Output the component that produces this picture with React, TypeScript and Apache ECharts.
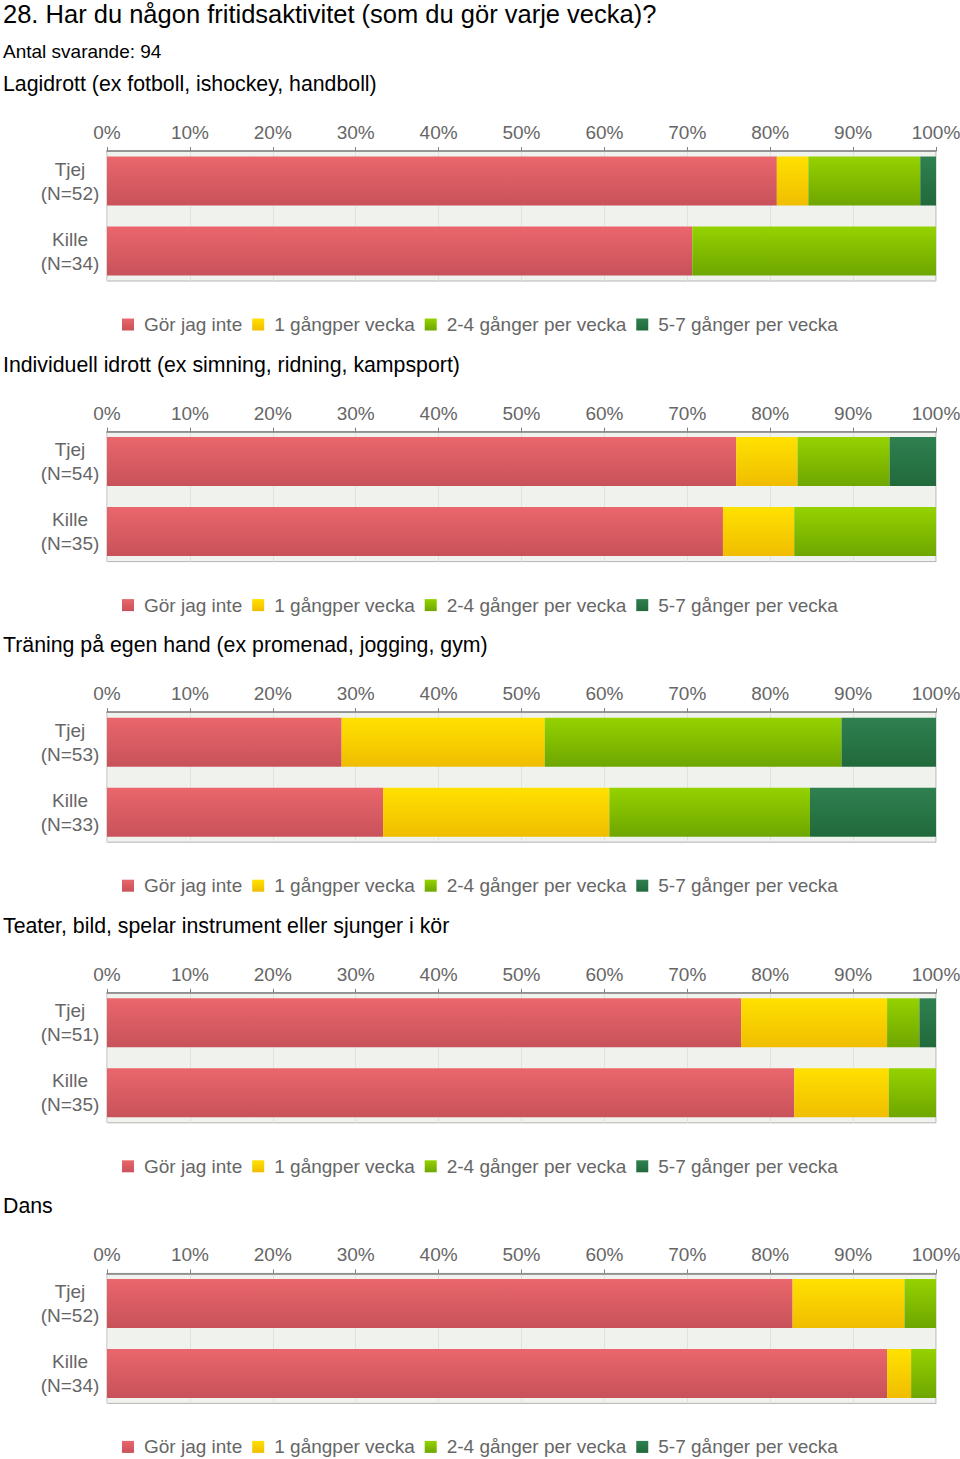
import React, { useEffect, useRef } from "react";
import * as echarts from "echarts";

const mainTitle = "28. Har du någon fritidsaktivitet (som du gör varje vecka)?";
const subTitle = "Antal svarande: 94";
const panelTitles = [
  "Lagidrott (ex fotboll, ishockey, handboll)",
  "Individuell idrott (ex simning, ridning, kampsport)",
  "Träning på egen hand (ex promenad, jogging, gym)",
  "Teater, bild, spelar instrument eller sjunger i kör",
  "Dans",
];
const tjejN = [52, 54, 53, 51, 52];
const killeN = [34, 35, 33, 35, 34];
const legendNames = ["Gör jag inte", "1 gångper vecka", "2-4 gånger per vecka", "5-7 gånger per vecka"];
const xTickLabels = ["0%", "10%", "20%", "30%", "40%", "50%", "60%", "70%", "80%", "90%", "100%"];

// [Tjej, Kille] per panel, percent
const gorJagInte = [[80.8, 70.6], [75.9, 74.3], [28.3, 33.3], [76.5, 82.9], [82.7, 94.1]];
const enGangPerVecka = [[3.8, 0], [7.4, 8.6], [24.5, 27.3], [17.6, 11.4], [13.5, 2.9]];
const tvaFyraGanger = [[13.5, 29.4], [11.1, 17.1], [35.8, 24.2], [3.9, 5.7], [3.8, 3.0]];
const femSjuGanger = [[1.9, 0], [5.6, 0], [11.4, 15.2], [2.0, 0], [0, 0]];

const levels = [gorJagInte, enGangPerVecka, tvaFyraGanger, femSjuGanger];

const gradients = [
  ["#ea666c", "#c8525a"],
  ["#ffe100", "#f0bd00"],
  ["#95d200", "#6ea600"],
  ["#2f8050", "#21693b"],
];

const PANEL_STEP = 280.6;
const FONT = "'Liberation Sans', Arial, sans-serif";

export default function App() {
  const ref = useRef<HTMLDivElement>(null);
  useEffect(() => {
    if (!ref.current) return;
    const chart = echarts.init(ref.current, null, { renderer: "svg" });
    const grids: any[] = [];
    const xAxes: any[] = [];
    const yAxes: any[] = [];
    const series: any[] = [];
    const legends: any[] = [];
    const graphics: any[] = [
      { type: "text", x: 3, y: 14, style: { text: mainTitle, fontSize: 25.5, fontFamily: FONT, fill: "#000", verticalAlign: "middle" } },
      { type: "text", x: 3, y: 51, style: { text: subTitle, fontSize: 19, fontFamily: FONT, fill: "#000", verticalAlign: "middle" } },
    ];
    for (let i = 0; i < 5; i++) {
      const off = i * PANEL_STEP;
      const frameIdx = 2 * i;
      const barIdx = 2 * i + 1;
      graphics.push({
        type: "text",
        x: 3,
        y: 84 + off,
        style: { text: panelTitles[i], fontSize: 21.3, fontFamily: FONT, fill: "#000", verticalAlign: "middle" },
      });
      // frame grid: background, border, top percent axis
      grids.push({
        left: 107,
        width: 829,
        top: 151 + off,
        height: 130,
        show: true,
        backgroundColor: "#f0f2ee",
        borderColor: "#b4b4b4",
        borderWidth: 1,
        outerBoundsMode: "none",
        containLabel: false,
      });
      // bar grid: holds the bars and category labels
      grids.push({
        left: 107,
        width: 829,
        top: 146 + off,
        height: 140,
        show: false,
        outerBoundsMode: "none",
        containLabel: false,
      });
      xAxes.push({
        type: "value",
        gridIndex: frameIdx,
        position: "top",
        min: 0,
        max: 100,
        interval: 10,
        axisLine: { show: true, lineStyle: { color: "#808080", width: 1.5 } },
        axisTick: { show: true, length: 4, lineStyle: { color: "#808080" } },
        axisLabel: {
          formatter: (v: number) => xTickLabels[Math.round(v / 10)],
          fontSize: 19,
          fontFamily: FONT,
          color: "#666",
          margin: 9,
        },
        splitLine: { show: true, lineStyle: { color: "#dfe2de", width: 1 } },
      });
      xAxes.push({
        type: "value",
        gridIndex: barIdx,
        min: 0,
        max: 100,
        show: false,
      });
      yAxes.push({
        type: "category",
        gridIndex: frameIdx,
        data: [""],
        show: false,
      });
      yAxes.push({
        type: "category",
        gridIndex: barIdx,
        inverse: true,
        data: [`Tjej\n(N=${tjejN[i]})`, `Kille\n(N=${killeN[i]})`],
        axisLine: { show: false },
        axisTick: { show: false },
        splitLine: { show: false },
        axisLabel: {
          fontSize: 19,
          fontFamily: FONT,
          color: "#666",
          align: "center",
          margin: 37,
          lineHeight: 24,
        },
      });
      levels.forEach((lvl, k) => {
        series.push({
          type: "bar",
          name: legendNames[k],
          stack: "s" + i,
          xAxisIndex: barIdx,
          yAxisIndex: barIdx,
          barWidth: 49,
          data: lvl[i],
          itemStyle: {
            color: {
              type: "linear",
              x: 0,
              y: 0,
              x2: 0,
              y2: 1,
              colorStops: [
                { offset: 0, color: gradients[k][0] },
                { offset: 1, color: gradients[k][1] },
              ],
            },
          },
          emphasis: { disabled: true },
        });
      });
      legends.push({
        data: legendNames,
        left: 117,
        top: 310 + off,
        icon: "rect",
        itemWidth: 12,
        itemHeight: 12,
        itemGap: 10,
        textStyle: { fontSize: 19, fontFamily: FONT, color: "#666", padding: [0, 0, 0, 5] },
        selectedMode: false,
      });
    }
    chart.setOption({
      animation: false,
      backgroundColor: "#fff",
      grid: grids,
      xAxis: xAxes,
      yAxis: yAxes,
      legend: legends,
      series,
      graphic: graphics,
    });
    return () => chart.dispose();
  }, []);
  return (
    <div
      ref={ref}
      style={{ position: "absolute", left: 0, top: 0, width: 960, height: 1459 }}
    />
  );
}
